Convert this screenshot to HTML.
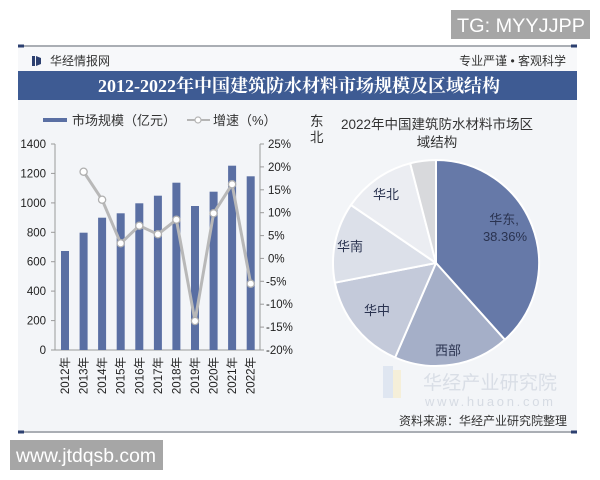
<!DOCTYPE html>
<html><head><meta charset="utf-8"><style>
html,body{margin:0;padding:0;background:#fff;}
svg{display:block;}
text{font-family:"Liberation Sans","Noto Sans CJK SC",sans-serif;}
</style></head><body>
<svg width="600" height="480" viewBox="0 0 600 480" xmlns="http://www.w3.org/2000/svg">
<rect x="0" y="0" width="600" height="480" fill="#ffffff"/>
<!-- TG box -->
<rect x="451" y="10" width="139" height="29" fill="#a6a6a6"/>
<text x="457" y="32" font-size="19.5" fill="#ffffff" textLength="128" lengthAdjust="spacingAndGlyphs">TG: MYYJJPP</text>
<!-- main panel background -->
<rect x="18" y="47" width="559" height="384" fill="#f3f5f8"/>
<rect x="18" y="47" width="559" height="24" fill="#f7f8fa"/>
<!-- top line -->
<line x1="18" y1="46" x2="577" y2="46" stroke="#8e939c" stroke-width="1.5"/>
<rect x="18" y="44.5" width="6" height="3" fill="#2d4070"/>
<rect x="571" y="44.5" width="6" height="3" fill="#2d4070"/>
<!-- header -->
<rect x="32" y="56" width="3" height="10" fill="#2d4070"/>
<path d="M36,56 L41,58 L41,64 L36,66 Z" fill="#2d4070"/>
<text x="50" y="65" font-size="12" fill="#333">华经情报网</text>
<text x="566" y="65" font-size="12" fill="#333" text-anchor="end">专业严谨 • 客观科学</text>
<!-- title bar -->
<rect x="18" y="71" width="559" height="29" fill="#3e5b93"/>
<text x="299" y="92" font-size="18" font-weight="bold" fill="#ffffff" text-anchor="middle" style="font-family:'Liberation Serif','Noto Serif CJK SC',serif">2012-2022年中国建筑防水材料市场规模及区域结构</text>
<!-- legend -->
<rect x="43" y="118" width="24" height="4" fill="#5a6fa3"/>
<text x="72" y="125" font-size="13" fill="#333">市场规模（亿元）</text>
<line x1="187" y1="120" x2="210" y2="120" stroke="#b5b5b5" stroke-width="2"/>
<circle cx="198" cy="120" r="3" fill="#fff" stroke="#b5b5b5" stroke-width="1.2"/>
<text x="213" y="125" font-size="13" fill="#333">增速（%）</text>
<!-- left axis -->
<g stroke="#9a9a9a" stroke-width="1">
<line x1="55" y1="144" x2="55" y2="350"/>
<line x1="51" y1="144" x2="55" y2="144"/>
<line x1="51" y1="173.4" x2="55" y2="173.4"/>
<line x1="51" y1="202.9" x2="55" y2="202.9"/>
<line x1="51" y1="232.3" x2="55" y2="232.3"/>
<line x1="51" y1="261.7" x2="55" y2="261.7"/>
<line x1="51" y1="291.1" x2="55" y2="291.1"/>
<line x1="51" y1="320.6" x2="55" y2="320.6"/>
<line x1="51" y1="350" x2="55" y2="350"/>
<!-- right axis -->
<line x1="260" y1="144" x2="260" y2="350"/>
<line x1="260" y1="144" x2="264" y2="144"/>
<line x1="260" y1="166.9" x2="264" y2="166.9"/>
<line x1="260" y1="189.8" x2="264" y2="189.8"/>
<line x1="260" y1="212.7" x2="264" y2="212.7"/>
<line x1="260" y1="235.6" x2="264" y2="235.6"/>
<line x1="260" y1="258.4" x2="264" y2="258.4"/>
<line x1="260" y1="281.3" x2="264" y2="281.3"/>
<line x1="260" y1="304.2" x2="264" y2="304.2"/>
<line x1="260" y1="327.1" x2="264" y2="327.1"/>
<line x1="260" y1="350" x2="264" y2="350"/>
<!-- bottom axis -->
<line x1="55" y1="350" x2="260" y2="350"/>
</g>
<g font-size="11.5" fill="#222" text-anchor="end">
<text x="46" y="148">1400</text>
<text x="46" y="177.4">1200</text>
<text x="46" y="206.9">1000</text>
<text x="46" y="236.3">800</text>
<text x="46" y="265.7">600</text>
<text x="46" y="295.1">400</text>
<text x="46" y="324.6">200</text>
<text x="46" y="354">0</text>
</g>
<g font-size="11.5" fill="#222">
<text x="268" y="148">25%</text>
<text x="268" y="170.9">20%</text>
<text x="268" y="193.8">15%</text>
<text x="268" y="216.7">10%</text>
<text x="268" y="239.6">5%</text>
<text x="268" y="262.4">0%</text>
<text x="266" y="285.3">-5%</text>
<text x="266" y="308.2">-10%</text>
<text x="266" y="331.1">-15%</text>
<text x="266" y="354">-20%</text>
</g>
<!-- bars -->
<g fill="#5a6fa3">
<rect x="61" y="251" width="8" height="99"/>
<rect x="79.6" y="232.7" width="8" height="117.3"/>
<rect x="98.1" y="217.7" width="8" height="132.3"/>
<rect x="116.7" y="213.3" width="8" height="136.7"/>
<rect x="135.3" y="203.3" width="8" height="146.7"/>
<rect x="153.9" y="195.7" width="8" height="154.3"/>
<rect x="172.4" y="182.7" width="8" height="167.3"/>
<rect x="191" y="206" width="8" height="144"/>
<rect x="209.6" y="191.7" width="8" height="158.3"/>
<rect x="228.1" y="165.7" width="8" height="184.3"/>
<rect x="246.7" y="176.3" width="8" height="173.7"/>
</g>
<!-- growth line -->
<polyline points="83.6,171.7 102.1,199.7 120.7,243.3 139.3,225.7 157.9,234.3 176.4,219.7 195,321 213.6,213.3 232.1,184.3 250.7,283.7" fill="none" stroke="#b8b8b8" stroke-width="3" stroke-linejoin="round"/>
<g fill="#ffffff" stroke="#b0b0b0" stroke-width="1.3">
<circle cx="83.6" cy="171.7" r="3.6"/>
<circle cx="102.1" cy="199.7" r="3.6"/>
<circle cx="120.7" cy="243.3" r="3.6"/>
<circle cx="139.3" cy="225.7" r="3.6"/>
<circle cx="157.9" cy="234.3" r="3.6"/>
<circle cx="176.4" cy="219.7" r="3.6"/>
<circle cx="195" cy="321" r="3.6"/>
<circle cx="213.6" cy="213.3" r="3.6"/>
<circle cx="232.1" cy="184.3" r="3.6"/>
<circle cx="250.7" cy="283.7" r="3.6"/>
</g>
<!-- x labels -->
<g font-size="11.5" fill="#222" text-anchor="end">
<text transform="translate(69,357) rotate(-90)">2012年</text>
<text transform="translate(87.6,357) rotate(-90)">2013年</text>
<text transform="translate(106.1,357) rotate(-90)">2014年</text>
<text transform="translate(124.7,357) rotate(-90)">2015年</text>
<text transform="translate(143.3,357) rotate(-90)">2016年</text>
<text transform="translate(161.9,357) rotate(-90)">2017年</text>
<text transform="translate(180.4,357) rotate(-90)">2018年</text>
<text transform="translate(199,357) rotate(-90)">2019年</text>
<text transform="translate(217.6,357) rotate(-90)">2020年</text>
<text transform="translate(236.1,357) rotate(-90)">2021年</text>
<text transform="translate(254.7,357) rotate(-90)">2022年</text>
</g>
<!-- pie title -->
<text x="316.7" y="126" font-size="13.5" fill="#333" text-anchor="middle">东</text>
<text x="316.7" y="142" font-size="13.5" fill="#333" text-anchor="middle">北</text>
<text x="437" y="129" font-size="13.5" fill="#333" text-anchor="middle">2022年中国建筑防水材料市场区</text>
<text x="437" y="147" font-size="13.5" fill="#333" text-anchor="middle">域结构</text>
<!-- pie -->
<g stroke="#ffffff" stroke-width="2" stroke-linejoin="round">
<path d="M436,263 L436,160 A103,103 0 0 1 504.8,339.7 Z" fill="#6679a8"/>
<path d="M436,263 L504.8,339.7 A103,103 0 0 1 395.1,357.5 Z" fill="#a5afc8"/>
<path d="M436,263 L395.1,357.5 A103,103 0 0 1 334.9,282.7 Z" fill="#c4cada"/>
<path d="M436,263 L334.9,282.7 A103,103 0 0 1 350.9,205 Z" fill="#dce0e9"/>
<path d="M436,263 L350.9,205 A103,103 0 0 1 410.2,163.3 Z" fill="#ebedf2"/>
<path d="M436,263 L410.2,163.3 A103,103 0 0 1 436,160 Z" fill="#d8d9dc"/>
</g>
<g font-size="13" fill="#2a3350" text-anchor="middle">
<text x="504" y="224">华东,</text>
<text x="505" y="241">38.36%</text>
<text x="386" y="199">华北</text>
<text x="350" y="251">华南</text>
<text x="377" y="315">华中</text>
<text x="448" y="355">西部</text>
</g>
<!-- watermark -->
<rect x="383" y="366" width="10" height="32" fill="#dfe6f1"/>
<rect x="393" y="370" width="8" height="28" fill="#f5efd9"/>
<text x="423" y="389" font-size="19" fill="#d9dee6" textLength="134" lengthAdjust="spacingAndGlyphs">华经产业研究院</text>
<text x="425" y="406" font-size="13" fill="#d6dbe3" textLength="128" lengthAdjust="spacing">www.huaon.com</text>
<!-- source -->
<text x="567" y="425" font-size="12" fill="#333" text-anchor="end">资料来源：华经产业研究院整理</text>
<!-- bottom line -->
<line x1="18" y1="432" x2="577" y2="432" stroke="#8e939c" stroke-width="1.5"/>
<rect x="18" y="430.5" width="6" height="3" fill="#2d4070"/>
<rect x="571" y="430.5" width="6" height="3" fill="#2d4070"/>
<!-- www box -->
<rect x="10" y="440" width="153" height="30" fill="#a6a6a6"/>
<text x="16" y="462" font-size="19" fill="#ffffff" textLength="140" lengthAdjust="spacingAndGlyphs">www.jtdqsb.com</text>
</svg>
</body></html>
